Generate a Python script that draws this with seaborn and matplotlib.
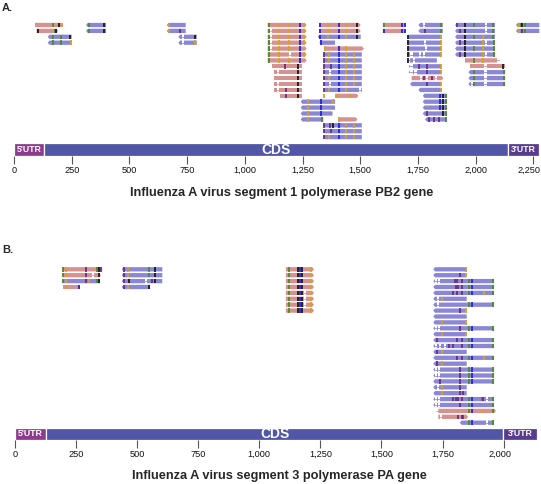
import matplotlib
matplotlib.use("Agg")
import matplotlib.pyplot as plt
import pandas as pd
import seaborn as sns
from matplotlib.collections import PatchCollection
from matplotlib.patches import Polygon, Rectangle
from matplotlib.ticker import FuncFormatter
from matplotlib.transforms import ScaledTranslation

# ── Data ─────────────────────────────────────────────────────────────
# gene features (name, start nt, end nt)
PB2_FEATURES = [("5'UTR", 0, 131), ("CDS", 131, 2142), ("3'UTR", 2142, 2275)]
PA_FEATURES = [("5'UTR", 0, 127), ("CDS", 127, 1999), ("3'UTR", 1999, 2135)]

PB2_TICKS = [0, 250, 500, 750, 1000, 1250, 1500, 1750, 2000, 2250]
PA_TICKS = [0, 250, 500, 750, 1000, 1250, 1500, 1750, 2000]

PB2_TITLE = "Influenza A virus segment 1 polymerase PB2 gene"
PA_TITLE = "Influenza A virus segment 3 polymerase PA gene"

# reads: (row, start, end, colour, strand, marks)
# marks: o=orange g=green b=blue k=black p=purple w=gap, followed by nt position
PB2_READS = [
    (0, 91, 214, "P", "+", "g170 k196 o209"),
    (1, 98, 192, "P", "+", "k103 g178 k183"),
    (2, 146, 250, "B", "-", "g170 g204 k244"),
    (3, 146, 250, "B", "-", "g170 g204 o246"),
    (0, 312, 399, "B", "-", "g326 k392"),
    (1, 312, 399, "B", "-", "g326 k392"),
    (0, 662, 744, "B", "-", "o670"),
    (1, 662, 744, "B", "-", "o670 p719"),
    (2, 712, 792, "B", "-", "w731 k784"),
    (3, 712, 792, "B", "-", "w731 o786"),
    (0, 1099, 1268, "P", "+", "g1103 o1148 o1192 b1240 o1258"),
    (1, 1099, 1268, "P", "+", "g1103 w1114 o1148 o1192 b1240 o1258"),
    (2, 1099, 1268, "P", "+", "g1103 w1114 o1148 o1192 b1240 o1258"),
    (3, 1099, 1268, "P", "+", "g1103 w1114 o1148 o1192 b1240 o1258"),
    (4, 1099, 1268, "P", "+", "g1103 w1114 o1148 o1192 b1240"),
    (5, 1099, 1268, "P", "+", "g1103 o1148 w1196 b1240 o1258"),
    (6, 1099, 1268, "P", "+", "g1103 o1148 o1192 b1240"),
    (7, 1119, 1247, "P", ".", "p1174 k1232"),
    (8, 1125, 1247, "P", ".", "w1143 k1232"),
    (9, 1125, 1247, "P", ".", "k1232"),
    (10, 1125, 1247, "P", ".", "w1143 k1232"),
    (11, 1125, 1247, "P", ".", "w1143 p1180 k1232"),
    (12, 1153, 1247, "P", ".", "p1180 k1232"),
    (13, 1242, 1391, "B", "-", "o1275 b1329 o1384"),
    (14, 1242, 1391, "B", "-", "o1275 b1329"),
    (15, 1242, 1380, "B", "-", "o1275 b1329"),
    (16, 1242, 1340, "B", "-", "o1275 g1335"),
    (0, 1323, 1502, "P", "+", "b1326 o1362 b1410 o1440 k1488"),
    (1, 1323, 1502, "P", "+", "b1326 o1362 b1410 o1440 k1488"),
    (2, 1316, 1502, "B", "-", "b1326 o1362 b1410 o1440 k1488"),
    (3, 1323, 1391, "B", "-", "b1330"),
    (4, 1345, 1516, "P", "+", "o1348 b1410 o1440"),
    (5, 1340, 1507, "B", "-", "p1345 o1366 b1410 o1440 o1475"),
    (6, 1340, 1507, "B", "-", "p1345 o1366 b1410 o1440 o1475"),
    (7, 1340, 1507, "B", "-", "p1345 p1372 b1410 o1440 o1475"),
    (8, 1340, 1507, "B", "-", "p1345 w1370 b1410 o1440 o1475"),
    (9, 1340, 1507, "B", "-", "p1345 o1366 b1410 o1440 o1475"),
    (10, 1340, 1507, "B", "-", "p1345 w1370 b1410 o1440 o1475"),
    (11, 1340, 1507, "B", "-", "p1345 o1366 b1410 o1440 w1500"),
    (12, 1391, 1492, "P", "+", "o1344 o1398 o1460"),
    (16, 1405, 1488, "P", "+", "o1410"),
    (17, 1340, 1507, "B", "-", "p1345 p1370 k1380 b1410 o1440 o1475"),
    (18, 1340, 1507, "B", "-", "p1345 p1372 b1410 o1440 o1475"),
    (19, 1340, 1507, "B", "-", "p1345 o1366 b1410 o1440 o1475"),
    (0, 1598, 1699, "P", "+", "g1603 b1680 b1692"),
    (1, 1598, 1699, "P", "+", "b1603 b1680 b1692"),
    (0, 1752, 1858, "B", "-", "w1776 g1852"),
    (1, 1752, 1858, "B", "-", "p1781 g1852"),
    (2, 1702, 1853, "B", "-", "k1706 o1849"),
    (3, 1702, 1853, "B", "-", "k1706 w1780 o1849"),
    (4, 1702, 1853, "B", "-", "k1706 w1785 o1849"),
    (5, 1702, 1853, "B", "-", "k1706 w1722 w1760 w1775 o1849"),
    (6, 1702, 1832, "B", "-", "k1706 w1712 w1733"),
    (7, 1710, 1853, "B", "-", "w1722 p1755 p1790 o1849"),
    (8, 1710, 1853, "B", "-", "w1722 w1740 p1790 o1849"),
    (9, 1723, 1860, "P", "+", "w1765 p1775 w1790 p1810 w1830"),
    (10, 1716, 1853, "B", "-", "p1790 o1849"),
    (11, 1752, 1853, "B", "-", "o1849"),
    (12, 1771, 1875, "B", "-", "b1845 k1858 g1870"),
    (13, 1771, 1875, "B", "-", "b1845 k1858 g1870"),
    (14, 1771, 1875, "B", "-", "b1845 k1858 g1870"),
    (15, 1771, 1875, "B", "-", "p1790 k1858 g1870"),
    (16, 1781, 1875, "B", "-", "p1800 p1820 p1840 g1870"),
    (0, 1911, 2084, "B", "-", "p1920 k1954 g1994 w2045 g2074"),
    (1, 1911, 2084, "B", "-", "p1933 k1954 w2045 g2074"),
    (2, 1911, 2084, "B", "-", "k1954 g1994 o2033 g2074"),
    (3, 1911, 2084, "B", "-", "p1933 k1954 o2033 w2045 g2078"),
    (4, 1911, 2084, "B", "-", "k1954 g1994 o2033 g2078"),
    (5, 1911, 2084, "B", "-", "p1933 k1954 o2033 w2045 g2078"),
    (6, 1954, 2103, "P", "+", "g1994 o2033 w2098"),
    (7, 1976, 2128, "P", ".", "w2043 k2120"),
    (8, 1969, 2128, "B", "-", "g1994 w2043 g2122"),
    (9, 1969, 2128, "B", "-", "g1994 w2043 g2122"),
    (10, 1969, 2128, "B", "-", "w1985 g1994 w2043 g2122"),
    (0, 2175, 2276, "B", "-", "o2186 g2196 k2203 g2214"),
    (1, 2175, 2276, "B", "-", "o2186 p2203 g2214"),
]

PA_READS = [
    (0, 195, 359, "P", "+", "g198 o207 p291 g334 k342 p354"),
    (1, 195, 352, "P", "+", "g198 o207 p291 w319 k342"),
    (2, 191, 348, "B", "-", "g198 o207 p291 o303 g334 k342"),
    (3, 198, 266, "P", ".", "o207 b262"),
    (0, 437, 603, "B", "-", "p447 o461 g548 k574"),
    (1, 437, 603, "B", "-", "p447 o461 g548 k574"),
    (2, 437, 603, "B", "-", "p447 k468 w536 p560 k574"),
    (3, 437, 553, "B", "-", "p447 o461 k548"),
    (0, 1109, 1224, "P", "+", "g1123 k1160 b1166 k1173 o1210"),
    (1, 1109, 1224, "P", "+", "g1123 k1160 b1166 k1173 o1210"),
    (2, 1109, 1224, "P", "+", "g1123 k1160 b1166 k1173 o1210"),
    (3, 1109, 1224, "P", "+", "g1123 k1160 b1166 k1173 o1210"),
    (4, 1109, 1224, "P", "+", "g1123 k1160 b1166 k1173 w1187 o1210"),
    (5, 1109, 1224, "P", "+", "g1123 k1160 b1166 k1173 w1187 o1210"),
    (6, 1109, 1224, "P", "+", "g1123 k1160 b1166 k1173 w1187 o1210"),
    (7, 1109, 1224, "P", "+", "g1123 k1160 b1166 k1173 o1210"),
    (0, 1712, 1849, "B", "-", "o1846"),
    (1, 1712, 1849, "B", "-", "p1821 o1846"),
    (2, 1712, 1961, "B", "-", "w1723 w1737 p1801 p1810 p1828 g1860 b1869 g1958"),
    (3, 1712, 1961, "B", "-", "p1805 p1815 p1828 g1860 b1869 g1958"),
    (4, 1712, 1961, "B", "-", "p1794 p1810 p1828 g1860 b1869 o1921 g1958"),
    (5, 1712, 1849, "B", "-", "w1730 o1747"),
    (6, 1712, 1961, "B", "-", "w1730 g1860 b1869 g1958"),
    (7, 1712, 1849, "B", "-", "p1821 o1846"),
    (8, 1712, 1849, "B", "-", ""),
    (9, 1712, 1849, "B", "-", "o1747 o1846"),
    (10, 1712, 1961, "B", "-", "w1723 w1737 p1821 g1860 b1869 g1958"),
    (11, 1712, 1849, "B", "-", "o1747 o1846"),
    (12, 1712, 1961, "B", "-", "p1726 p1810 p1828 g1860 b1869 g1958"),
    (13, 1712, 1961, "B", "-", "w1723 w1740 w1760 p1778 p1794 p1828 g1860 b1869 g1958"),
    (14, 1712, 1849, "B", "-", "p1726 o1747"),
    (15, 1712, 1961, "B", "-", "p1810 p1828 g1860 b1869 o1921 g1958"),
    (16, 1712, 1849, "B", "-", "p1726 o1747"),
    (17, 1712, 1961, "B", "-", "w1723 w1737 p1821 g1860 b1869 g1958"),
    (18, 1712, 1961, "B", "-", "w1723 w1737 p1821 g1860 b1869 g1958"),
    (19, 1712, 1961, "B", "-", "p1740 p1821 g1860 b1869 g1958"),
    (20, 1712, 1849, "B", "-", "w1730 o1747 p1821"),
    (21, 1712, 1849, "B", "-", "o1747 p1821 p1835"),
    (22, 1712, 1961, "B", "-", "w1723 w1737 p1794 p1805 p1815 p1828 g1860 b1869 g1910 p1917 w1932 g1958"),
    (23, 1712, 1961, "B", "-", "w1723 w1737 p1821 g1860 b1869 g1958"),
    (24, 1733, 1969, "P", "+", "w1728 g1860 b1869 o1917 g1958"),
    (25, 1733, 1855, "P", "+", "w1745 p1815 p1828 p1835"),
    (26, 1821, 1961, "B", "-", "g1860 b1869 w1932 g1958"),
]

# ── Style ────────────────────────────────────────────────────────────
READ_COLORS = {"P": "#d5928f", "B": "#8b87d7"}
MARK_COLORS = {"o": "#d9a02c", "g": "#4e8a2a", "b": "#2323e0", "k": "#1a1a1a", "p": "#6b2d86"}
FEATURE_COLORS = {"5'UTR": "#8c3b8e", "CDS": "#5156a6", "3'UTR": "#5a3c8e"}
FEATURE_FONTS = {"5'UTR": 6.3, "CDS": 10, "3'UTR": 6.3}

FIG_W, FIG_H = 541, 484
ROW_PX = 5.9
READ_PX = 4.3

# per panel: px per nt, x of nt 0, y of row 0, axes top, bar top, bar bottom (all px)
PANELS = [
    dict(reads=PB2_READS, feats=PB2_FEATURES, ticks=PB2_TICKS, title=PB2_TITLE, label="A.",
         scale=0.2308, x0=14, row0=25.0, top=18, bar_top=143.3, bar_bot=155.7,
         title_xy=(282, 193), label_y=8),
    dict(reads=PA_READS, feats=PA_FEATURES, ticks=PA_TICKS, title=PA_TITLE, label="B.",
         scale=0.2443, x0=15, row0=269.3, top=262, bar_top=427.7, bar_bot=440.0,
         title_xy=(279, 475.5), label_y=250),
]


def parse_marks(text):
    return [(tok[0], int(tok[1:])) for tok in text.split()]


def draw_panel(fig, p):
    ax = fig.add_axes([0, 1 - p["bar_bot"] / FIG_H, 1, (p["bar_bot"] - p["top"]) / FIG_H])
    scale = p["scale"]
    to_row = lambda px: (px - p["row0"]) / ROW_PX
    ax.set_xlim(-p["x0"] / scale, (FIG_W - p["x0"]) / scale)
    ax.set_ylim(to_row(p["bar_bot"]), to_row(p["top"]))

    h = READ_PX / ROW_PX / 2
    tip = 1.8 / scale
    polys, colors, gaps, marks = [], [], [], []
    for row, s, e, col, strand, mk in p["reads"]:
        if strand == "-":
            verts = [(s, row), (s + tip, row - h), (e, row - h), (e, row + h), (s + tip, row + h)]
        elif strand == "+":
            verts = [(s, row - h), (e - tip, row - h), (e, row), (e - tip, row + h), (s, row + h)]
        else:
            verts = [(s, row - h), (e, row - h), (e, row + h), (s, row + h)]
        polys.append(Polygon(verts, closed=True))
        colors.append(READ_COLORS[col])
        for code, pos in parse_marks(mk):
            if code == "w":
                gaps.append((row, pos, READ_COLORS[col]))
            else:
                marks.append({"pos": pos, "row": row, "code": code})
    ax.add_collection(PatchCollection(polys, facecolors=colors, edgecolors="none", zorder=2))

    gw = 2.2 / scale
    for row, pos, c in gaps:
        ax.add_patch(Rectangle((pos - gw / 2, row - h - 0.05), gw, 2 * h + 0.1, fc="white", ec="none", zorder=3))
        ax.plot([pos - gw / 2, pos + gw / 2], [row, row], color=c, lw=0.6, zorder=3.5)

    df = pd.DataFrame(marks)
    sns.scatterplot(data=df, x="pos", y="row", hue="code", palette=MARK_COLORS, marker="|",
                    s=(READ_PX * 0.75) ** 2, linewidth=1.3, legend=False, ax=ax, zorder=4)

    # gene bar
    y0, y1 = to_row(p["bar_top"]), to_row(p["bar_bot"])
    for name, s, e in p["feats"]:
        ax.add_patch(Rectangle((s, y0), e - s, y1 - y0, fc=FEATURE_COLORS[name], ec="white", lw=0.9, zorder=2))
        ax.text((s + e) / 2, (y0 + y1) / 2, name, color="white", fontweight="bold",
                fontsize=FEATURE_FONTS[name], ha="center", va="center", zorder=5)

    ax.set_xticks(p["ticks"])
    ax.xaxis.set_major_formatter(FuncFormatter(lambda v, _: f"{int(v):,}"))
    ax.tick_params(axis="x", bottom=True, length=5.4, width=0.8, color="#555555",
                   labelsize=6.6, pad=2, labelcolor="#111111")
    ax.set_yticks([])
    ax.set_xlabel("")
    ax.set_ylabel("")
    for sp in ax.spines.values():
        sp.set_visible(False)
    ax.patch.set_alpha(0)

    # keep the last tick label inside the figure
    last = ax.get_xticklabels()[-1]
    last.set_transform(last.get_transform() + ScaledTranslation(-0.04, 0, fig.dpi_scale_trans))

    tx, ty = p["title_xy"]
    fig.text(tx / FIG_W, 1 - ty / FIG_H, p["title"], ha="center", va="center",
             fontsize=9.2, fontweight="bold")
    fig.text(2 / FIG_W, 1 - p["label_y"] / FIG_H, p["label"], ha="left", va="center",
             fontsize=8, fontweight="bold")


sns.set_theme(style="white")
plt.rcParams["font.family"] = ["Liberation Sans", "DejaVu Sans"]

fig = plt.figure(figsize=(FIG_W / 100, FIG_H / 100), dpi=100)
for panel in PANELS:
    draw_panel(fig, panel)
fig.savefig("out.png", dpi=100)
plt.close(fig)
